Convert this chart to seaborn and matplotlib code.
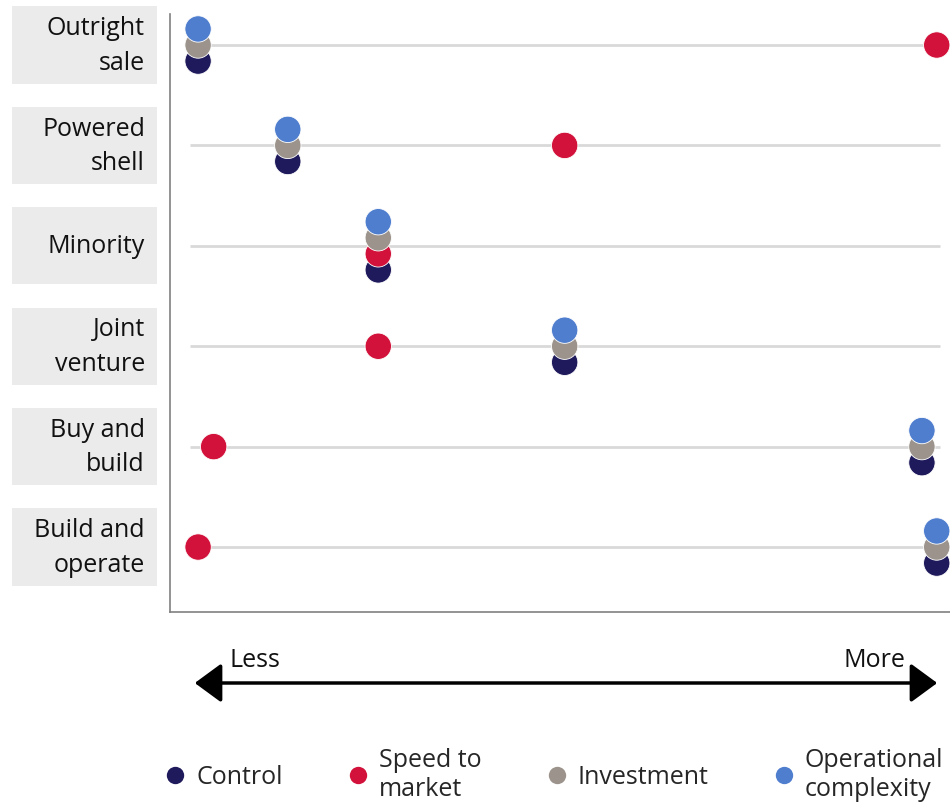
import numpy as np
import pandas as pd
import matplotlib
matplotlib.use("Agg")
import matplotlib.pyplot as plt
import seaborn as sns
from matplotlib.patches import Rectangle, FancyArrowPatch
from matplotlib.transforms import blended_transform_factory
from matplotlib.lines import Line2D

# ---- data ----
categories = ["Outright\nsale", "Powered\nshell", "Minority", "Joint\nventure",
              "Buy and\nbuild", "Build and\noperate"]
series = ["Control", "Speed to\nmarket", "Investment", "Operational\ncomplexity"]
control = [3.6, 15.1, 26.7, 50.6, 96.4, 98.3]
speed = [98.3, 50.6, 26.7, 26.7, 5.6, 3.6]
investment = [3.6, 15.1, 26.7, 50.6, 96.4, 98.3]
operational = [3.6, 15.1, 26.7, 50.6, 96.4, 98.3]
colors = ["#1f1a5c", "#d2123a", "#9c948c", "#4f7ecf"]

sns.set_theme(style="white")
plt.rcParams["font.family"] = ["Open Sans", "DejaVu Sans"]

rows = []
for s, vals in zip(series, [control, speed, investment, operational]):
    for i, (c, v) in enumerate(zip(categories, vals)):
        rows.append({"series": s, "cat": c, "idx": i, "x": v})
df = pd.DataFrame(rows)

# stack coincident points vertically (control at bottom, operational on top)
step = 0.16
df["y"] = df["idx"].astype(float)
for (i, x), g in df.groupby(["idx", "x"]):
    n = len(g)
    if n > 1:
        order = [series.index(s) for s in g["series"]]
        ranks = np.argsort(np.argsort(order))
        offs = (ranks - (n - 1) / 2) * step
        df.loc[g.index, "y"] = g["idx"] - offs

fig = plt.figure(figsize=(9.5, 8.04), dpi=100)
ax = fig.add_axes([170 / 950, 1 - 613 / 804, 780 / 950, 598 / 804])

ax.hlines(range(len(categories)), 2.6, 98.7, color="#d9d9d9", lw=2, zorder=1)

sns.scatterplot(data=df, x="x", y="y", hue="series", hue_order=series,
                palette=colors, s=360, edgecolor="white", linewidth=0.6,
                legend=False, ax=ax, zorder=3, clip_on=False)

ax.set_xlim(0, 100)
ax.set_ylim(5.647, -0.309)
ax.set_xticks([])
ax.set_yticks([])
ax.set_xlabel("")
ax.set_ylabel("")
for side in ["top", "right"]:
    ax.spines[side].set_visible(False)
for side in ["left", "bottom"]:
    ax.spines[side].set_color("#808080")
    ax.spines[side].set_linewidth(1.2)

FS = 18

# category label boxes
tr = blended_transform_factory(fig.transFigure, ax.transData)
for i, c in enumerate(categories):
    fig.add_artist(Rectangle((12 / 950, i - 0.385), 145 / 950, 0.77,
                             transform=tr, facecolor="#ebebeb",
                             edgecolor="none", zorder=0))
    fig.text(145 / 950, i, c, transform=tr, ha="right", va="center",
             fontsize=FS, linespacing=1.5, color="#111111")

# less / more arrow
fig.add_artist(FancyArrowPatch((192 / 950, 1 - 684 / 804), (940 / 950, 1 - 684 / 804),
                               transform=fig.transFigure,
                               arrowstyle="<|-|>,head_length=0.75,head_width=0.55",
                               mutation_scale=22, color="black", lw=2.5))
fig.text(230 / 950, 1 - 661 / 804, "Less", ha="left", va="center", fontsize=FS, color="#111111")
fig.text(905 / 950, 1 - 661 / 804, "More", ha="right", va="center", fontsize=FS, color="#111111")

# legend
handles = [Line2D([0], [0], marker="o", linestyle="none", markersize=12.5,
                  markerfacecolor=col, markeredgecolor="none") for col in colors]
fig.legend(handles, series, loc="center", bbox_to_anchor=(553 / 950, 1 - 775 / 804),
           ncol=4, frameon=False, fontsize=FS, handletextpad=0.35,
           columnspacing=2.5, handlelength=1.0, labelspacing=0.2)

fig.savefig("out.png", dpi=100)
